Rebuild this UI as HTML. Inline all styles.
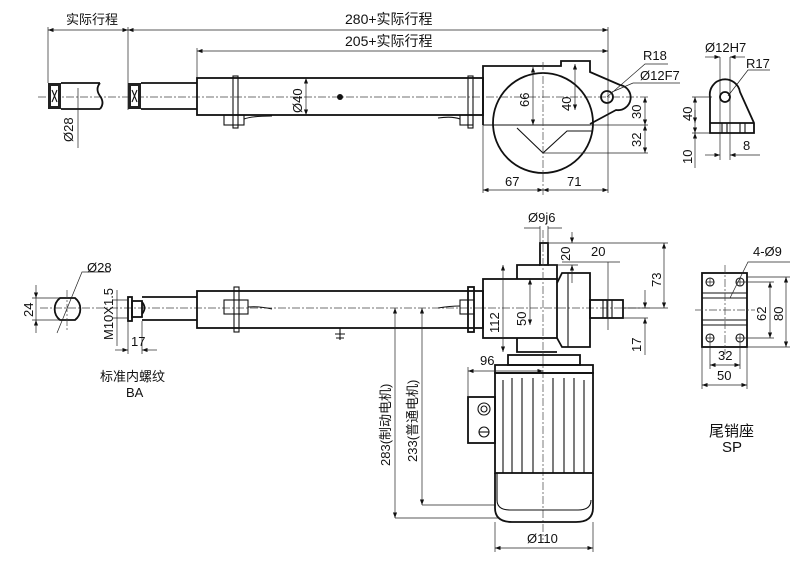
<!DOCTYPE html>
<html><head><meta charset="utf-8"><style>
html,body{margin:0;padding:0;background:#fff;width:800px;height:568px;overflow:hidden}
svg{display:block}
text{font-family:"Liberation Sans","Noto Sans CJK SC",sans-serif;font-size:13px;fill:#111}
.l{stroke:#111;stroke-width:1.1;fill:none}
.t{stroke:#111;stroke-width:1.8;fill:none}
.c{stroke:#444;stroke-width:.7;stroke-dasharray:8 2 2 2;fill:none}
.d{stroke:#222;stroke-width:.7;fill:none}
</style></head><body>
<svg width="800" height="568" viewBox="0 0 800 568" xmlns="http://www.w3.org/2000/svg">
<defs><marker id="a" markerWidth="8" markerHeight="6" refX="8" refY="3" orient="auto-start-reverse"><path d="M0,0 L8,3 L0,6z" fill="#111"/></marker></defs>
<!-- TOP VIEW -->
<text x="66" y="24">实际行程</text>
<text x="345" y="24" style="font-size:14px">280+实际行程</text>
<text x="345" y="46" style="font-size:14px">205+实际行程</text>
<line class="d" x1="48" y1="30" x2="128" y2="30" marker-start="url(#a)" marker-end="url(#a)"/>
<line class="d" x1="128" y1="30" x2="608" y2="30" marker-start="url(#a)" marker-end="url(#a)"/>
<line class="d" x1="197" y1="51" x2="608" y2="51" marker-start="url(#a)" marker-end="url(#a)"/>
<path class="d" d="M48 27V83M128 27V110M197 48V78M608 27V100"/>
<line class="c" x1="38" y1="97" x2="650" y2="97"/>
<g>
<rect x="48" y="83" width="13" height="26" fill="#222"/><rect x="51" y="86" width="7" height="20" fill="#fff"/>
<path class="l" d="M52 90L57 102M57 90L52 102"/>
<rect x="128" y="83" width="13" height="26" fill="#222"/><rect x="131" y="86" width="7" height="20" fill="#fff"/>
<path class="l" d="M132 90L137 102M137 90L132 102"/>
</g>
<path class="t" d="M61 83H100M61 109H100M100 83q-5 6 0 13t0 13"/>
<path class="t" d="M141 83H197M141 109H197"/>
<line class="d" x1="78" y1="88" x2="78" y2="148"/><text transform="translate(73,142) rotate(-90)">Ø28</text>
<rect class="t" x="197" y="78" width="286" height="37"/>
<rect class="l" x="233" y="76" width="5" height="52" fill="#fff"/><rect class="l" x="224" y="115" width="20" height="10" fill="#fff"/>
<path class="l" d="M244 119q8-3 28-3"/>
<rect class="l" x="468" y="76" width="5" height="52" fill="#fff"/><rect class="l" x="460" y="115" width="13" height="10" fill="#fff"/>
<path class="l" d="M460 119q-8-3-22-1"/>
<line class="d" x1="306" y1="78" x2="306" y2="115" marker-start="url(#a)" marker-end="url(#a)"/>
<text transform="translate(302,113) rotate(-90)">Ø40</text>
<circle cx="340" cy="97" r="3" fill="#111"/>
<path class="t" d="M483 125V66H561V61H590V72L620 85A12 12 0 0 1 616 110L590 124"/>
<line class="l" x1="483" y1="125" x2="590" y2="125"/>
<circle class="t" cx="543" cy="123" r="50" fill="#fff"/>
<path class="l" d="M517 128L543 153L567 131H593"/>
<circle class="t" cx="607" cy="97" r="6"/>
<line class="c" x1="543" y1="62" x2="543" y2="195"/>
<line class="d" x1="533" y1="67" x2="533" y2="125" marker-start="url(#a)" marker-end="url(#a)"/>
<text transform="translate(529,107) rotate(-90)">66</text>
<line class="d" x1="575" y1="64" x2="575" y2="110" marker-start="url(#a)" marker-end="url(#a)"/>
<text transform="translate(571,111) rotate(-90)">40</text>
<path class="d" d="M543 153H648M590 125H648"/>
<line class="d" x1="645" y1="97" x2="645" y2="125" marker-start="url(#a)" marker-end="url(#a)"/>
<line class="d" x1="645" y1="125" x2="645" y2="153" marker-start="url(#a)" marker-end="url(#a)"/>
<text transform="translate(641,119) rotate(-90)">30</text>
<text transform="translate(641,147) rotate(-90)">32</text>
<path class="d" d="M483 125V193M608 100V193"/>
<line class="d" x1="483" y1="190" x2="543" y2="190" marker-start="url(#a)" marker-end="url(#a)"/>
<line class="d" x1="543" y1="190" x2="608" y2="190" marker-start="url(#a)" marker-end="url(#a)"/>
<text x="505" y="186">67</text><text x="567" y="186">71</text>
<text x="643" y="60">R18</text><text x="640" y="80">Ø12F7</text>
<path class="d" d="M607 97L645 64H668M612 92L633 83H680"/>
<!-- lug side -->
<text x="705" y="52">Ø12H7</text><text x="746" y="68">R17</text>
<line class="d" x1="705" y1="57" x2="720" y2="57" marker-end="url(#a)"/><line class="d" x1="745" y1="57" x2="730" y2="57" marker-end="url(#a)"/>
<path class="d" d="M720 57V160M730 57V160M728 96L748 70H770"/>
<path class="t" d="M710 133V97A15 15 0 0 1 740 92L754 123V133ZM710 123H754"/>
<circle class="t" cx="725" cy="97" r="5"/>
<path class="l" d="M722 123V133M727 123V133M740 123V133M745 123V133"/>
<path class="d" d="M692 97H712M692 133H710"/>
<line class="d" x1="695" y1="97" x2="695" y2="133" marker-start="url(#a)" marker-end="url(#a)"/>
<text transform="translate(692,121) rotate(-90)">40</text>
<line class="d" x1="695" y1="110" x2="695" y2="123" marker-end="url(#a)"/><line class="d" x1="695" y1="146" x2="695" y2="133" marker-end="url(#a)"/>
<line class="d" x1="695" y1="146" x2="695" y2="168"/>
<text transform="translate(692,164) rotate(-90)">10</text>
<line class="d" x1="705" y1="155" x2="720" y2="155" marker-end="url(#a)"/><line class="d" x1="760" y1="155" x2="730" y2="155" marker-end="url(#a)"/>
<text x="743" y="150">8</text>
<!-- BOTTOM VIEW -->
<line class="c" x1="40" y1="308" x2="650" y2="308"/>
<path class="t" d="M60 298H75A14 14 0 0 1 75 320H60A14 14 0 0 1 60 298Z"/>
<line class="c" x1="67" y1="290" x2="67" y2="330"/>
<path class="d" d="M32 298H60M32 320H60M57 333L82 272H110"/>
<line class="d" x1="36" y1="285" x2="36" y2="298" marker-end="url(#a)"/><line class="d" x1="36" y1="333" x2="36" y2="320" marker-end="url(#a)"/>
<line class="d" x1="36" y1="298" x2="36" y2="320"/>
<text transform="translate(33,317) rotate(-90)">24</text>
<text x="87" y="272">Ø28</text>
<rect class="t" x="128" y="297" width="4" height="24"/><rect class="t" x="132" y="301" width="10" height="16"/>
<path class="t" d="M142 297H197M142 320H197M142 302q5 6 0 12"/>
<path class="d" d="M113 300H128M113 318H128M128 321V354M142 321V354"/>
<line class="d" x1="117" y1="290" x2="117" y2="346"/>
<text transform="translate(113,340) rotate(-90)">M10X1.5</text>
<line class="d" x1="115" y1="350" x2="128" y2="350" marker-end="url(#a)"/><line class="d" x1="157" y1="350" x2="142" y2="350" marker-end="url(#a)"/>
<text x="131" y="346">17</text>
<text x="100" y="381">标准内螺纹</text><text x="126" y="397">BA</text>
<rect class="t" x="197" y="291" width="286" height="37"/>
<rect class="l" x="234" y="287" width="5" height="45" fill="#fff"/><rect class="l" x="224" y="300" width="24" height="14" fill="#fff"/>
<path class="l" d="M248 307q10-1 24 2"/>
<path class="l" d="M340 328V340M335 334H345M336 338H344"/>
<rect class="t" x="468" y="287" width="6" height="45" fill="#fff"/>
<rect class="l" x="460" y="300" width="14" height="14" fill="#fff"/>
<path class="l" d="M460 306q-10 0-22 2"/>
<rect class="t" x="483" y="279" width="74" height="59" fill="#fff"/>
<path class="t" d="M517 279V265H540M548 265H557V279M517 338V352H557"/>
<path class="t" d="M557 283L562 273H590V347H562L557 338"/>
<line class="l" x1="568" y1="273" x2="568" y2="347"/>
<rect class="t" x="590" y="300" width="33" height="18"/>
<path class="l" d="M603 300V318M607 300V318M612 300V318"/>
<rect class="t" x="540" y="243" width="8" height="22"/>
<line class="c" x1="543" y1="230" x2="543" y2="540"/>
<text x="528" y="222">Ø9j6</text>
<path class="d" d="M524 228H540M548 228H562M540 226V243M548 226V243"/>
<line class="d" x1="572" y1="232" x2="572" y2="243" marker-end="url(#a)"/><line class="d" x1="572" y1="283" x2="572" y2="265" marker-end="url(#a)"/>
<path class="d" d="M548 243H668M548 265H578"/>
<text transform="translate(570,261) rotate(-90)">20</text>
<text x="591" y="256">20</text>
<path class="d" d="M562 262H620M608 262V330"/>
<line class="d" x1="664" y1="243" x2="664" y2="308" marker-start="url(#a)" marker-end="url(#a)"/>
<path class="d" d="M623 308H668M623 318H648"/>
<text transform="translate(661,287) rotate(-90)">73</text>
<line class="d" x1="645" y1="290" x2="645" y2="308" marker-end="url(#a)"/><line class="d" x1="645" y1="355" x2="645" y2="318" marker-end="url(#a)"/>
<text transform="translate(641,352) rotate(-90)">17</text>
<line class="d" x1="503" y1="265" x2="503" y2="352" marker-start="url(#a)" marker-end="url(#a)"/>
<text transform="translate(499,333) rotate(-90)">112</text>
<line class="d" x1="530" y1="279" x2="530" y2="325" marker-start="url(#a)" marker-end="url(#a)"/>
<text transform="translate(526,326) rotate(-90)">50</text>
<rect class="t" x="508" y="355" width="72" height="10" fill="#fff"/>
<rect class="t" x="495" y="365" width="98" height="8" fill="#fff"/>
<rect class="t" x="495" y="373" width="98" height="100" fill="#fff"/>
<path class="l" d="M503 380V473M512 378V473M522 378V473M533 378V473M553 378V473M564 378V473M574 378V473M584 380V473"/>
<path class="t" d="M495 473V508Q495 522 512 522H576Q593 522 593 508V473"/>
<path class="l" d="M497 473V500Q497 510 510 510H578Q591 510 591 500"/>
<rect class="t" x="468" y="397" width="27" height="46" fill="#fff"/>
<circle class="l" cx="484" cy="409" r="6"/><circle class="l" cx="484" cy="409" r="3"/>
<circle class="l" cx="484" cy="432" r="5"/><line class="l" x1="479" y1="432" x2="489" y2="432"/>
<path class="d" d="M468 367V397"/>
<line class="d" x1="468" y1="371" x2="543" y2="371" marker-start="url(#a)" marker-end="url(#a)"/>
<text x="480" y="365">96</text>
<path class="d" d="M495 522V552M593 522V552"/>
<line class="d" x1="495" y1="548" x2="593" y2="548" marker-start="url(#a)" marker-end="url(#a)"/>
<text x="527" y="543">Ø110</text>
<path class="d" d="M395 518H500M422 505H496"/>
<line class="d" x1="395" y1="308" x2="395" y2="518" marker-start="url(#a)" marker-end="url(#a)"/>
<line class="d" x1="422" y1="308" x2="422" y2="505" marker-start="url(#a)" marker-end="url(#a)"/>
<text transform="translate(390,466) rotate(-90)">283(制动电机)</text>
<text transform="translate(417,462) rotate(-90)">233(普通电机)</text>
<!-- SP -->
<rect class="t" x="702" y="273" width="45" height="74"/>
<path class="l" d="M702 293H747M702 298H747M702 320H747M702 325H747"/>
<line class="c" x1="695" y1="310" x2="755" y2="310"/><line class="c" x1="725" y1="265" x2="725" y2="355"/>
<g class="l"><circle cx="710" cy="282" r="4"/><circle cx="740" cy="282" r="4"/><circle cx="710" cy="338" r="4"/><circle cx="740" cy="338" r="4"/></g>
<path class="d" d="M706 282H714M710 278V286M736 282H744M740 278V286M706 338H714M710 334V342M736 338H744M740 334V342"/>
<text x="753" y="256">4-Ø9</text>
<path class="d" d="M730 298L748 262H790M744 282H774M744 338H774M747 277H790M747 347H790"/>
<line class="d" x1="770" y1="282" x2="770" y2="338" marker-start="url(#a)" marker-end="url(#a)"/>
<line class="d" x1="786" y1="277" x2="786" y2="347" marker-start="url(#a)" marker-end="url(#a)"/>
<text transform="translate(766,321) rotate(-90)">62</text>
<text transform="translate(783,321) rotate(-90)">80</text>
<path class="d" d="M710 342V369M740 342V369M702 347V389M747 347V389"/>
<line class="d" x1="710" y1="365" x2="740" y2="365" marker-start="url(#a)" marker-end="url(#a)"/>
<line class="d" x1="702" y1="385" x2="747" y2="385" marker-start="url(#a)" marker-end="url(#a)"/>
<text x="718" y="360">32</text><text x="717" y="380">50</text>
<text x="709" y="436" style="font-size:15px">尾销座</text>
<text x="722" y="452" style="font-size:15px">SP</text>
</svg>
</body></html>
